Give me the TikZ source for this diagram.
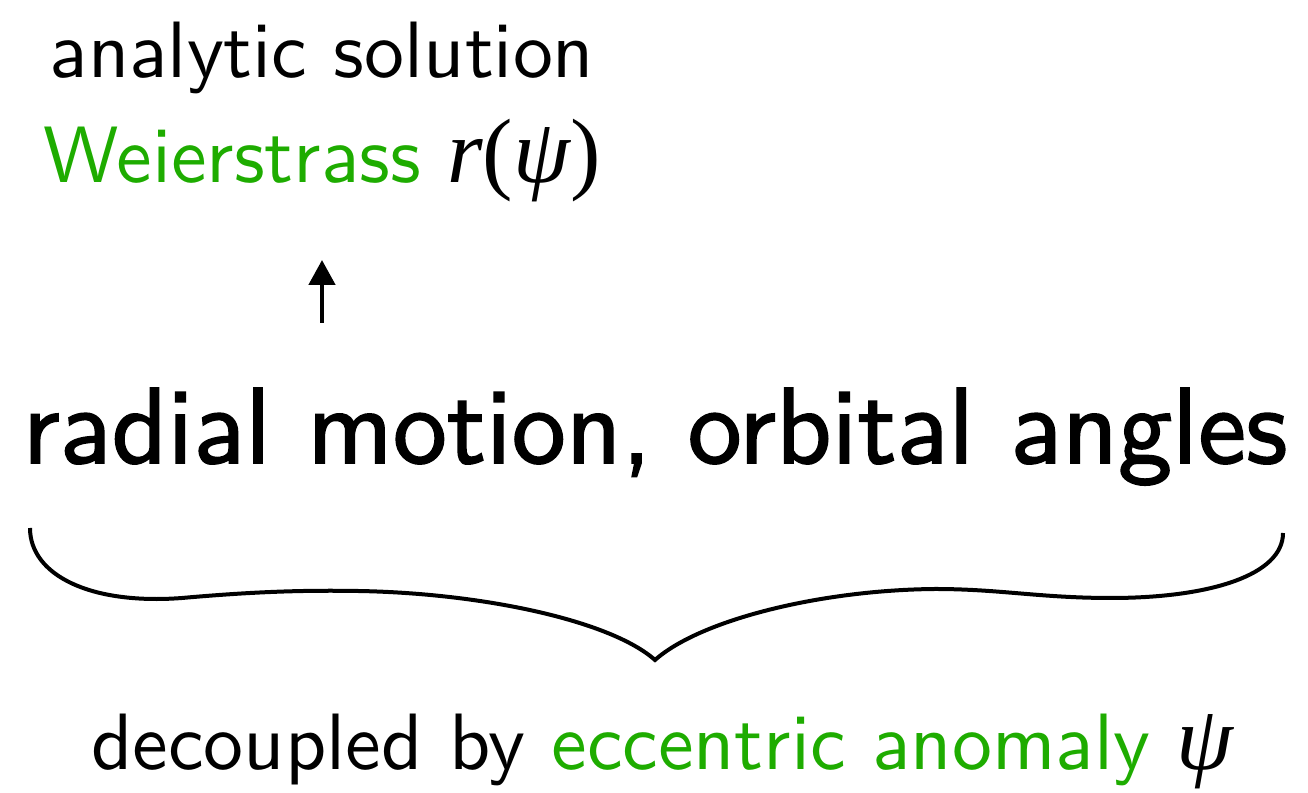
\RequirePackage{fix-cm}
\documentclass[tikz,border=0pt]{standalone}
\usepackage{fontspec}
\newfontfamily\smallsans{lmsans10-regular.otf}
\newfontfamily\bigsans{lmsans10-regular.otf}[FakeBold=1.5]
\newfontfamily\timesmath{Liberation Serif}
\newcommand{\tvar}[1]{{\timesmath\fontsize{52}{60}\selectfont\itshape #1}}
\newcommand{\tpar}[1]{{\timesmath\fontsize{52}{60}\selectfont #1}}
\usetikzlibrary{arrows.meta}
\definecolor{anomgreen}{RGB}{30,172,0}
\tikzset{
    txt/.style={inner sep=0pt, anchor=base, font=\smallsans\fontsize{45.5}{54}\selectfont},
    bigtxt/.style={inner sep=0pt, anchor=base, font=\bigsans\fontsize{61.5}{74}\selectfont},
}
\begin{document}
\begin{tikzpicture}
    \useasboundingbox (0,0) rectangle (26.16,15.86);
    \node[txt] (sol) at (6.44,14.30) {analytic solution};
    \node[txt] (weier) at (6.44,12.20) {\textcolor{anomgreen}{Weierstrass} \tvar{r}\tpar{(}\tvar{ψ}\tpar{)}};
    \node[bigtxt] (motion) at (13.10,6.60) {radial motion, orbital angles};
    \node[txt] (decoup) at (13.25,0.46) {decoupled by \textcolor{anomgreen}{eccentric anomaly} \tvar{ψ}};
    \draw[line width=0.095cm, -{Triangle[length=0.5cm,width=0.52cm]}, shorten <=1.3cm, shorten >=1.54cm] (weier.base |- motion.north) -- (weier.base);
    % brace under the motion line
    \draw[line width=0.08cm] (0.60,5.30) .. controls (0.60,4.36) and (1.80,3.76) .. (3.64,3.90)
        .. controls (5.00,4.02) and (6.00,4.06) .. (7.16,4.04)
        .. controls (9.60,4.00) and (12.20,3.46) .. (13.10,2.66)
        .. controls (14.00,3.46) and (16.40,4.06) .. (18.70,4.08)
        .. controls (20.00,4.08) and (20.80,3.90) .. (22.22,3.90)
        .. controls (24.20,3.90) and (25.66,4.36) .. (25.66,5.20);
\end{tikzpicture}
\end{document}
